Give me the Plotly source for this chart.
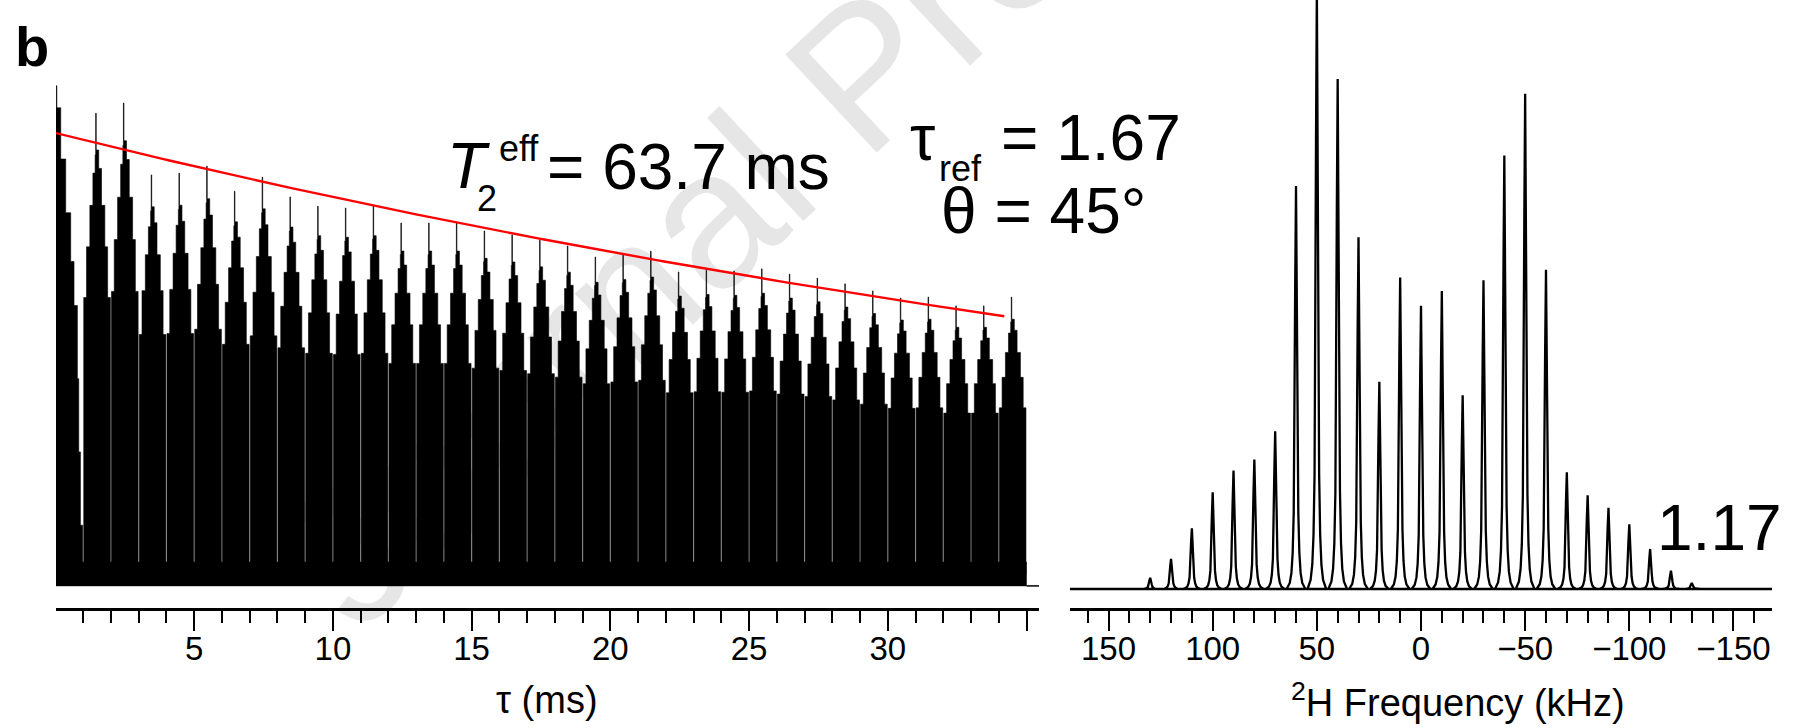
import math
import plotly.graph_objects as go

# ------------------------------------------------------------------ data
# Left panel: QCPMG echo train; echo k occupies tau in [k, k+1] ms
echo_peak = [1.107, 1.045, 1.068, 0.905, 0.909, 0.925, 0.868, 0.900, 0.855, 0.834,
             0.830, 0.834, 0.796, 0.796, 0.796, 0.778, 0.769, 0.757, 0.744, 0.719,
             0.726, 0.732, 0.685, 0.689, 0.687, 0.692, 0.680, 0.671, 0.658, 0.642,
             0.626, 0.628, 0.608, 0.608, 0.628]
# stepped shape of one full echo inside its 1 ms window
echo_shape_u = [0.00, 0.02, 0.12, 0.24, 0.35, 0.43, 0.45, 0.47, 0.56, 0.66, 0.78, 0.88, 0.98, 1.00]
echo_shape_h = [0.00, 0.60, 0.71, 0.80, 0.87, 0.91, 1.00, 0.92, 0.88, 0.80, 0.71, 0.60, 0.00, 0.00]
# first (half) echo, an FID starting at tau = 0
fid_shape_u = [0.00, 0.05, 0.19, 0.37, 0.55, 0.67, 0.79, 0.84, 0.90, 0.98, 1.00]
fid_shape_h = [1.00, 0.955, 0.85, 0.74, 0.64, 0.55, 0.40, 0.25, 0.10, 0.00, 0.00]
noise_band = [-0.027, 0.027]
signal_end = 35.0
tail_end = 35.45

fit_T2 = 63.7      # ms
fit_A = 1.0
fit_t_end = 34.2

# Right panel: 2H spinning-sideband spectrum
sideband_freq = [130, 120, 110, 100, 90, 80, 70, 60, 50, 40, 30, 20, 10, 0,
                 -10, -20, -30, -40, -50, -60, -70, -80, -90, -100, -110, -120, -130]
sideband_height = [0.019, 0.051, 0.103, 0.164, 0.201, 0.220, 0.268, 0.684, 1.02, 0.866,
                   0.597, 0.352, 0.529, 0.481, 0.506, 0.329, 0.524, 0.736, 0.841, 0.542,
                   0.198, 0.159, 0.138, 0.110, 0.068, 0.031, 0.010]
peak_shape_off = [-4.5, -3.0, -2.2, -1.6, -1.1, -0.75, -0.4, 0.0, 0.4, 0.75, 1.1, 1.6, 2.2, 3.0, 4.5]
peak_shape_h = [0.0, 0.015, 0.04, 0.09, 0.19, 0.40, 0.75, 1.0, 0.75, 0.40, 0.19, 0.09, 0.04, 0.015, 0.0]
freq_limits = [168.5, -168.5]

left_tickvals = [5, 10, 15, 20, 25, 30, 35]
left_ticktext = ["5", "10", "15", "20", "25", "30", " "]
left_minor = [v for v in range(1, 35) if v % 5 != 0]
right_tickvals = [150, 100, 50, 0, -50, -100, -150]
right_ticktext = ["150", "100", "50", "0", "\u221250", "\u2212100", "\u2212150"]
right_minor = [v for v in range(-160, 170, 10) if v % 50 != 0]

# ------------------------------------------------------------------ build traces
echo_x, echo_y = [], []
for k, a in enumerate(echo_peak):
    us, hs = (fid_shape_u, fid_shape_h) if k == 0 else (echo_shape_u, echo_shape_h)
    for u, h in zip(us, hs):
        echo_x.append(k + u)
        echo_y.append(a * h)

fit_x = [fit_t_end * i / 200 for i in range(201)]
fit_y = [fit_A * math.exp(-t / fit_T2) for t in fit_x]

spec_x, spec_y = [freq_limits[0]], [0.0]
for f, h in zip(sideband_freq, sideband_height):
    for o, s in zip(peak_shape_off[::-1], peak_shape_h[::-1]):
        spec_x.append(f - o)
        spec_y.append(h * s)
spec_x.append(freq_limits[1]); spec_y.append(0.0)

W, H = 1805, 728
PLOT_BOTTOM = 608
FONT = "Liberation Sans, Arial, Helvetica, sans-serif"

fig = go.Figure()
# noise band under the echoes
fig.add_trace(go.Scatter(x=[0, signal_end, signal_end, 0],
                         y=[noise_band[0], noise_band[0], noise_band[1], noise_band[1]],
                         fill="toself", fillcolor="black", line=dict(color="black", width=0.5),
                         mode="lines", xaxis="x", yaxis="y", hoverinfo="skip"))
fig.add_trace(go.Scatter(x=[signal_end, tail_end], y=[noise_band[0], noise_band[0]], mode="lines",
                         line=dict(color="black", width=1.5), xaxis="x", yaxis="y"))
fig.add_trace(go.Scatter(x=echo_x, y=echo_y, mode="lines", fill="tozeroy", fillcolor="black",
                         line=dict(color="black", width=0.6, shape="hv"), xaxis="x", yaxis="y"))
fig.add_trace(go.Scatter(x=fit_x, y=fit_y, mode="lines", line=dict(color="#ff0000", width=2.4),
                         xaxis="x", yaxis="y"))
fig.add_trace(go.Scatter(x=spec_x, y=spec_y, mode="lines", line=dict(color="black", width=2.3),
                         xaxis="x2", yaxis="y2"))

axis_common = dict(showline=True, linecolor="black", linewidth=2.5, ticks="outside", ticklen=20,
                   tickwidth=2, tickcolor="black", showgrid=False, zeroline=False,
                   ticklabelstandoff=-10,
                   tickfont=dict(family=FONT, size=33, color="black"), tickmode="array")

fig.update_layout(
    width=W, height=H, margin=dict(l=0, r=0, t=0, b=H - PLOT_BOTTOM),
    paper_bgcolor="white", plot_bgcolor="rgba(0,0,0,0)", showlegend=False,
    xaxis=dict(domain=[56 / W, 1039 / W], range=[0.02, tail_end], tickvals=left_tickvals,
               ticktext=left_ticktext,
               minor=dict(tickmode="array", tickvals=left_minor, ticks="outside", ticklen=12,
                          tickwidth=2, tickcolor="black"), anchor="y", **axis_common),
    yaxis=dict(domain=[0, 1], range=[-34 / 441, 574 / 441], visible=False),
    xaxis2=dict(domain=[1070 / W, 1772 / W], range=freq_limits, tickvals=right_tickvals,
                ticktext=right_ticktext,
                minor=dict(tickmode="array", tickvals=right_minor, ticks="outside", ticklen=12,
                           tickwidth=2, tickcolor="black"), anchor="y2", **axis_common),
    yaxis2=dict(domain=[0, 1], range=[-19 / 589, 1.0], visible=False, anchor="x2"),
)


def P(x, y):
    return x / W, (PLOT_BOTTOM - y) / PLOT_BOTTOM


def text(s, x, baseline, size, anchor="left", bold=False, italic=False):
    px, py = P(x, baseline - 0.3465 * size)
    if bold:
        s = "<b>" + s + "</b>"
    if italic:
        s = "<i>" + s + "</i>"
    fig.add_annotation(text=s, x=px, y=py, xref="paper", yref="paper", xanchor=anchor,
                       yanchor="middle", showarrow=False,
                       font=dict(family=FONT, size=size, color="black"), borderpad=0)


text("b", 14, 66, 56, bold=True)
text("T", 446, 188, 64, italic=True)
text("2", 476, 211, 36)
text("eff", 498, 161, 36)
text("= 63.7 ms", 546, 189, 64)
text("\u03c4", 909, 160, 64)
text("ref", 938, 181, 36)
text("= 1.67", 1000, 160, 64)
text("\u03b8 = 45\u00b0", 940, 233, 64)
text("1.17", 1656, 550, 64)
text("\u03c4 (ms)", 547, 713, 38, anchor="center")
text("<sup>2</sup>H Frequency (kHz)", 1458, 713, 38, anchor="center")

# faint watermark behind the data
cx, cy, L = 850, 60, 600
dx, dy = math.cos(math.radians(43)), -math.sin(math.radians(43))
x0, y0 = P(cx - L * dx, cy - L * dy)
x1, y1 = P(cx + L * dx, cy + L * dy)
fig.add_shape(type="line", xref="paper", yref="paper", x0=x0, y0=y0, x1=x1, y1=y1,
              line=dict(width=0, color="rgba(0,0,0,0)"), layer="below",
              label=dict(text="Journal Pre-proof", textposition="middle", yanchor="middle",
                         font=dict(family=FONT, size=195, color="#e6e6e6")))

fig.write_html("out.html", config={"displayModeBar": False},
               post_script="document.body.style.margin='0px';document.body.style.overflow='hidden';")
